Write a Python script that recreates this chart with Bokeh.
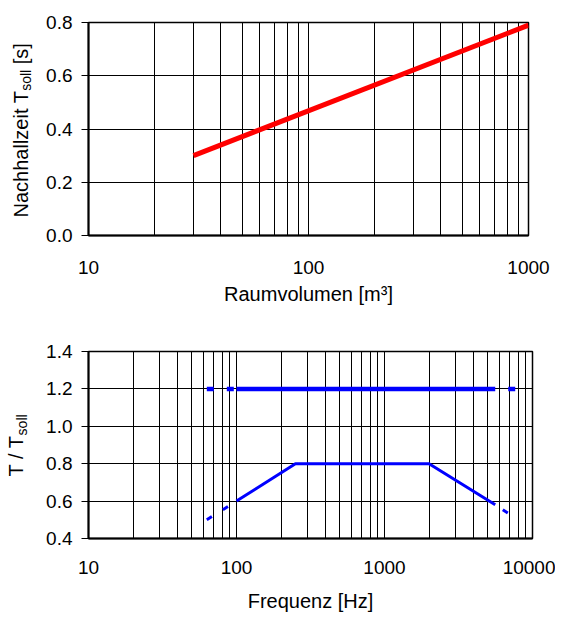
from math import pi
from bokeh.plotting import figure
from bokeh.layouts import column, row
from bokeh.models import FixedTicker, PrintfTickFormatter, Range1d
from bokeh.core.properties import value
from bokeh.embed import file_html
from bokeh.resources import INLINE

# ---------------- data: top chart (Nachhallzeit vs. Raumvolumen) ----------------
volume = [30, 1000]
t_soll = [0.30, 0.79]
vol_ticks = [10, 100, 1000]
vol_grid = [10, 20, 30, 40, 50, 60, 70, 80, 90,
            100, 200, 300, 400, 500, 600, 700, 800, 900, 1000]
t_ticks = [0.0, 0.2, 0.4, 0.6, 0.8]

# ---------------- data: bottom chart (T / Tsoll vs. Frequenz) ----------------
freq_ticks = [10, 100, 1000, 10000]
freq_grid = [10, 20, 30, 40, 50, 60, 70, 80, 90,
             100, 200, 300, 400, 500, 600, 700, 800, 900,
             1000, 2000, 3000, 4000, 5000, 6000, 7000, 8000, 9000, 10000]
ratio_ticks = [0.4, 0.6, 0.8, 1.0, 1.2, 1.4]

upper_f = [100, 5600]
upper_r = [1.2, 1.2]
upper_lo_f = [63, 100]
upper_lo_r = [1.2, 1.2]
upper_hi_f = [5600, 8000]
upper_hi_r = [1.2, 1.2]

lower_f = [100, 250, 2000, 5600]
lower_r = [0.6, 0.8, 0.8, 0.58]
lower_lo_f = [63, 100]
lower_lo_r = [0.5, 0.6]
lower_hi_f = [5600, 8000]
lower_hi_r = [0.58, 0.5]

FONT = "Liberation Sans"
TICK_SIZE = "19px"
LABEL_SIZE = 20
SUB_SIZE = 14
LAB_W = 40  # width of the strip holding the rotated y-axis titles


def style(p, xticks, yticks, xgrid_vals, xlabel, x_standoff, xlabel_standoff):
    p.background_fill_color = "white"
    p.border_fill_color = "white"
    p.outline_line_color = "black"
    p.outline_line_width = 1.5

    p.xaxis.ticker = FixedTicker(ticks=xticks)
    p.xaxis.formatter = PrintfTickFormatter(format="%d")
    p.yaxis.ticker = FixedTicker(ticks=yticks)
    p.yaxis.formatter = PrintfTickFormatter(format="%.1f")

    for ax in p.axis:
        ax.major_label_text_font = FONT
        ax.major_label_text_font_size = TICK_SIZE
        ax.major_label_text_color = "black"
        ax.axis_line_color = "black"
        ax.axis_line_width = 2
        ax.minor_tick_in = 0
        ax.minor_tick_out = 0
        ax.major_tick_in = 0
        ax.major_tick_line_color = "black"
        ax.axis_label_text_font = FONT
        ax.axis_label_text_font_size = f"{LABEL_SIZE}px"
        ax.axis_label_text_font_style = "normal"
        ax.axis_label_text_color = "black"

    p.xaxis.major_tick_out = 0
    p.xaxis.major_label_standoff = x_standoff
    p.xaxis.axis_label = xlabel
    p.xaxis.axis_label_standoff = xlabel_standoff
    p.yaxis.major_tick_out = 7
    p.yaxis.major_label_standoff = 9

    p.xgrid.ticker = FixedTicker(ticks=xgrid_vals)
    p.xgrid.grid_line_color = "black"
    p.xgrid.grid_line_width = 1
    p.ygrid.grid_line_color = "black"
    p.ygrid.grid_line_width = 1


def title_strip(height, top, bottom, parts):
    """Narrow figure carrying a rotated axis title built from pieces
    (main text and subscript).  Its frame uses the same top/bottom borders
    as the chart next to it, and its y range is expressed in canvas pixels."""
    frame_h = height - top - bottom
    s = figure(width=LAB_W, height=height, x_range=Range1d(0, LAB_W),
               y_range=Range1d(top + frame_h, top), output_backend="svg",
               toolbar_location=None, x_axis_location=None, y_axis_location=None,
               min_border_left=0, min_border_right=0,
               min_border_top=top, min_border_bottom=bottom)
    s.grid.visible = False
    s.outline_line_color = None
    s.background_fill_color = "white"
    s.border_fill_color = "white"
    for (x, y, txt, size) in parts:
        s.text(x=[x], y=[y], text=[txt], angle=pi / 2,
               text_font=value(FONT), text_font_size=value(f"{size}px"),
               text_align="left", text_baseline="middle", text_color="black")
    return s


# ---------------- top figure ----------------
H1, T1, B1 = 315, 22, 80
p1 = figure(width=555 - LAB_W, height=H1, x_axis_type="log",
            x_range=Range1d(10, 1000), y_range=Range1d(0, 0.8),
            output_backend="svg", toolbar_location=None,
            min_border_left=88 - LAB_W, min_border_right=27,
            min_border_top=T1, min_border_bottom=B1)
style(p1, vol_ticks, t_ticks, vol_grid, "Raumvolumen [m³]", 25, 6)
p1.line(volume, t_soll, line_color="#ff0000", line_width=5)

w_main = 6.335 * LABEL_SIZE
w_sub = 1.5 * SUB_SIZE
w_space = 0.278 * LABEL_SIZE
y0 = 217
lab1 = title_strip(H1, T1, B1, [
    (20, y0, "Nachhallzeit T", LABEL_SIZE),
    (25, y0 - w_main, "soll", SUB_SIZE),
    (20, y0 - w_main - w_sub - w_space, "[s]", LABEL_SIZE),
])

# ---------------- bottom figure ----------------
H2, T2, B2 = 301, 36, 78
p2 = figure(width=555 - LAB_W, height=H2, x_axis_type="log",
            x_range=Range1d(10, 10000), y_range=Range1d(0.4, 1.4),
            output_backend="svg", toolbar_location=None,
            min_border_left=88 - LAB_W, min_border_right=23,
            min_border_top=T2, min_border_bottom=B2)
style(p2, freq_ticks, ratio_ticks, freq_grid, "Frequenz [Hz]", 22, 13)

p2.line(upper_f, upper_r, line_color="#0000ff", line_width=4.5)
p2.line(upper_lo_f, upper_lo_r, line_color="#0000ff", line_width=4.5, line_dash="7 13")
p2.line(upper_hi_f, upper_hi_r, line_color="#0000ff", line_width=4.5, line_dash="7 13",
        line_dash_offset=7)
p2.line(lower_f, lower_r, line_color="#0000ff", line_width=3)
p2.line(lower_lo_f, lower_lo_r, line_color="#0000ff", line_width=3, line_dash="6 13")
p2.line(lower_hi_f, lower_hi_r, line_color="#0000ff", line_width=3, line_dash="6 13",
        line_dash_offset=10)

w_main2 = 2.056 * LABEL_SIZE
y1 = 161
lab2 = title_strip(H2, T2, B2, [
    (15, y1, "T / T", LABEL_SIZE),
    (21, y1 - w_main2, "soll", SUB_SIZE),
])

layout = column(row(lab1, p1, spacing=0), row(lab2, p2, spacing=0), spacing=0)
open("out.html", "w").write(file_html(layout, INLINE))
